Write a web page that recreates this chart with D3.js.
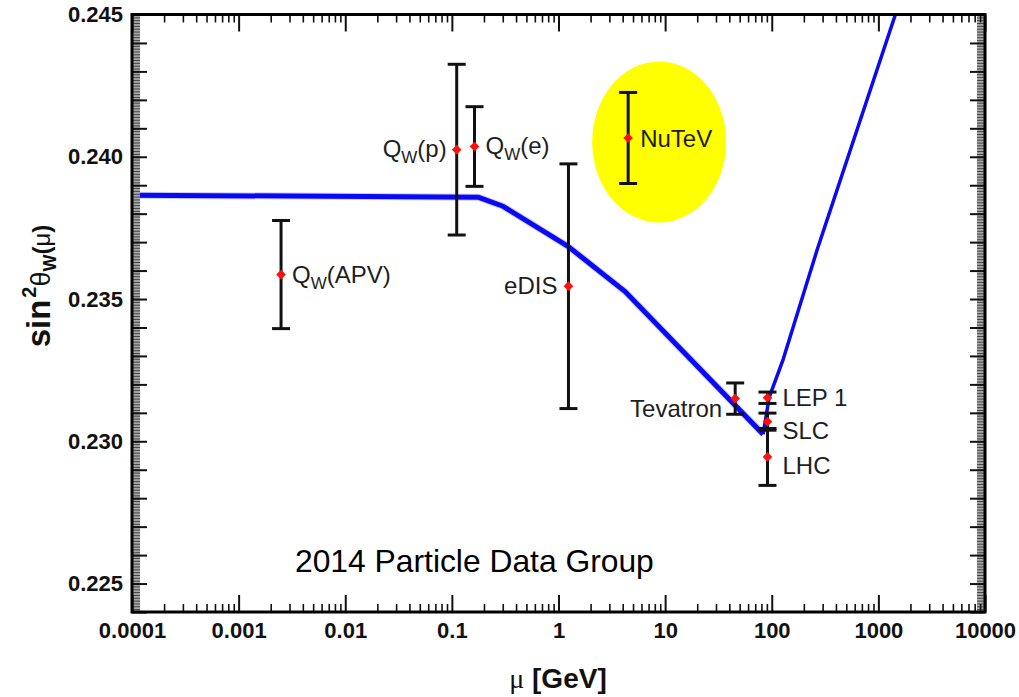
<!DOCTYPE html>
<html>
<head>
<meta charset="utf-8">
<script src="https://cdn.jsdelivr.net/npm/d3@7"></script>
<style>
  html, body { margin: 0; padding: 0; background: #fff; }
  svg { display: block; }
  text { font-family: "Liberation Sans", Arial, Helvetica, sans-serif; }
</style>
</head>
<body>
<svg id="chart" width="1019" height="697"></svg>
<script>
// Weak mixing angle measurements at different energy scales
const experiments = ["Q_W(APV)", "Q_W(p)", "Q_W(e)", "eDIS", "NuTeV", "Tevatron", "LEP 1", "SLC", "LHC"];
const scaleGeV    = [0.0025, 0.111, 0.163, 1.24, 4.5, 45.4, 91.2, 91.2, 91.2];
const sin2w       = [0.23586, 0.24025, 0.24036, 0.23545, 0.24066, 0.23150, 0.23153, 0.23069, 0.22945];
const sin2wErr    = [0.0019, 0.0030, 0.0014, 0.0043, 0.0016, 0.00055, 0.0002, 0.0003, 0.0010];

// Running of sin^2(theta_W) in the MS-bar scheme
const curveMu   = [0.0001, 0.176, 0.302, 1.23, 4.22, 83.0, 94.6, 128, 267, 1439];
const curveS2w  = [0.23865, 0.23858, 0.23826, 0.23685, 0.23526, 0.23025, 0.23154, 0.23288, 0.23674, 0.24498];

// Axis labels
const xTickLabels = ["0.0001", "0.001", "0.01", "0.1", "1", "10", "100", "1000", "10000"];
const yTickLabels = ["0.225", "0.230", "0.235", "0.240", "0.245"];

// Label placement next to each point (pixels)
const labelPlacement = {
  "Q_W(APV)": { anchor: "start", dx: 11,  dy: 8 },
  "Q_W(p)":   { anchor: "end",   dx: -10, dy: 7 },
  "Q_W(e)":   { anchor: "start", dx: 11,  dy: 7 },
  "eDIS":     { anchor: "end",   dx: -11, dy: 8 },
  "NuTeV":    { anchor: "start", dx: 12,  dy: 9 },
  "Tevatron": { anchor: "end",   dx: -13, dy: 18 },
  "LEP 1":    { anchor: "start", dx: 15,  dy: 8 },
  "SLC":      { anchor: "start", dx: 15,  dy: 17 },
  "LHC":      { anchor: "start", dx: 15,  dy: 17 }
};

const svg = d3.select("#chart");
const frame = { left: 132, right: 985, top: 14.5, bottom: 612 };

const x = d3.scaleLog().domain([1e-4, 1e4]).range([frame.left, frame.right]);
const y = d3.scaleLinear().domain([0.224, 0.245]).range([frame.bottom, frame.top]);

const plot = svg.append("g");

// Highlight around the NuTeV result
const nutevIdx = experiments.indexOf("NuTeV");
plot.append("ellipse")
  .attr("cx", x(scaleGeV[nutevIdx]) + 31)
  .attr("cy", y(sin2w[nutevIdx]) + 4)
  .attr("rx", 67)
  .attr("ry", 80.5)
  .attr("fill", "#ffff00");

// Clip the theory curve to the frame
svg.append("defs").append("clipPath").attr("id", "frameClip")
  .append("rect")
  .attr("x", frame.left).attr("y", frame.top)
  .attr("width", frame.right - frame.left)
  .attr("height", frame.bottom - frame.top);

const curve = curveMu.map((m, i) => [m, curveS2w[i]]);
const minIdx = d3.minIndex(curveS2w);
const line = d3.line().x(d => x(d[0])).y(d => y(d[1]));

const curveG = plot.append("g").attr("clip-path", "url(#frameClip)");
curveG.append("path")
  .datum(curve.slice(0, minIdx + 1))
  .attr("d", line)
  .attr("fill", "none")
  .attr("stroke", "#8f8ff5")
  .attr("stroke-width", 7)
  .attr("stroke-opacity", 0.45)
  .attr("stroke-linejoin", "round");
curveG.append("path")
  .datum(curve.slice(0, minIdx + 1))
  .attr("d", line)
  .attr("fill", "none")
  .attr("stroke", "#0a0af2")
  .attr("stroke-width", 5)
  .attr("stroke-linejoin", "round");
curveG.append("path")
  .datum(curve.slice(minIdx))
  .attr("d", line)
  .attr("fill", "none")
  .attr("stroke", "#0a0af2")
  .attr("stroke-width", 3.5)
  .attr("stroke-linejoin", "round");

// Error bars
const points = experiments.map((name, i) => ({
  name, mu: scaleGeV[i], v: sin2w[i], e: sin2wErr[i]
}));

const bars = plot.append("g").attr("stroke", "#111").attr("stroke-width", 3);
points.forEach(p => {
  const px = x(p.mu);
  const y1 = y(p.v + p.e), y2 = y(p.v - p.e);
  bars.append("line").attr("x1", px).attr("x2", px).attr("y1", y1).attr("y2", y2);
  bars.append("line").attr("x1", px - 9).attr("x2", px + 9).attr("y1", y1).attr("y2", y1);
  bars.append("line").attr("x1", px - 9).attr("x2", px + 9).attr("y1", y2).attr("y2", y2);
});

// Central values
plot.append("g").selectAll("path")
  .data(points)
  .join("path")
  .attr("d", d3.symbol(d3.symbolDiamond2, 60))
  .attr("transform", d => `translate(${x(d.mu)},${y(d.v)})`)
  .attr("fill", "#ff1010");

// Experiment labels, with "_" marking a subscript letter
function writeLabel(sel, name) {
  const parts = name.split("_");
  sel.append("tspan").text(parts[0]);
  if (parts.length > 1) {
    sel.append("tspan").attr("font-size", 17).attr("dy", 6).text(parts[1][0]);
    sel.append("tspan").attr("dy", -6).text(parts[1].slice(1));
  }
}
points.forEach(p => {
  const lp = labelPlacement[p.name];
  const t = plot.append("text")
    .attr("x", x(p.mu) + lp.dx)
    .attr("y", y(p.v) + lp.dy)
    .attr("text-anchor", lp.anchor)
    .attr("font-size", 24)
    .attr("fill", "#1e1e1e");
  writeLabel(t, p.name);
});

plot.append("text")
  .attr("x", 295).attr("y", 572)
  .attr("font-size", 31.8)
  .attr("fill", "#000")
  .text("2014 Particle Data Group");

// Axes
const xMajor = xTickLabels.map(Number);
const xMinor = [];
for (let k = -4; k < 4; k++) {
  for (let m = 2; m <= 9; m++) xMinor.push(m * Math.pow(10, k));
}
const yMajor = d3.range(224, 246).map(v => v / 1000);
const yFine = d3.range(2240, 2451).map(v => v / 10000);
const yLabelSet = new Set(yTickLabels);

function styleAxis(g, width) {
  g.select(".domain").remove();
  g.selectAll(".tick line").attr("stroke", "#111").attr("stroke-width", width);
}

// grey bands of dense fine ticks along the vertical axes
[[frame.left, 1], [frame.right, -1]].forEach(([ax, dir]) => {
  svg.append("rect")
    .attr("x", dir > 0 ? ax : ax - 8)
    .attr("y", frame.top)
    .attr("width", 8)
    .attr("height", frame.bottom - frame.top)
    .attr("fill", "#a8a8a8");
});
svg.append("g").attr("transform", `translate(${frame.left},0)`)
  .call(d3.axisLeft(y).tickValues(yFine).tickSize(-8).tickFormat(""))
  .call(g => { g.select(".domain").remove(); g.selectAll(".tick line").attr("stroke", "#444").attr("stroke-width", 1); });
svg.append("g").attr("transform", `translate(${frame.right},0)`)
  .call(d3.axisRight(y).tickValues(yFine).tickSize(-8).tickFormat(""))
  .call(g => { g.select(".domain").remove(); g.selectAll(".tick line").attr("stroke", "#444").attr("stroke-width", 1); });

svg.append("g").attr("transform", `translate(${frame.left},0)`)
  .call(d3.axisLeft(y).tickValues(yMajor).tickSize(-15).tickPadding(9)
    .tickFormat(d => { const s = d.toFixed(3); return yLabelSet.has(s) ? s : ""; }))
  .call(g => styleAxis(g, 2))
  .call(g => g.selectAll("text").attr("font-size", 22).attr("font-weight", "bold").attr("fill", "#111"));

svg.append("g").attr("transform", `translate(${frame.right},0)`)
  .call(d3.axisRight(y).tickValues(yMajor).tickSize(-15).tickFormat(""))
  .call(g => styleAxis(g, 2));

svg.append("g").attr("transform", `translate(0,${frame.bottom})`)
  .call(d3.axisBottom(x).tickValues(xMajor).tickSize(-17).tickPadding(10)
    .tickFormat((d, i) => xTickLabels[i]))
  .call(g => styleAxis(g, 2))
  .call(g => g.selectAll("text").attr("font-size", 22).attr("font-weight", "bold").attr("fill", "#111"));
svg.append("g").attr("transform", `translate(0,${frame.bottom})`)
  .call(d3.axisBottom(x).tickValues(xMinor).tickSize(-8).tickFormat(""))
  .call(g => styleAxis(g, 1.6));

svg.append("g").attr("transform", `translate(0,${frame.top})`)
  .call(d3.axisTop(x).tickValues(xMajor).tickSize(-17).tickFormat(""))
  .call(g => styleAxis(g, 2));
svg.append("g").attr("transform", `translate(0,${frame.top})`)
  .call(d3.axisTop(x).tickValues(xMinor).tickSize(-8).tickFormat(""))
  .call(g => styleAxis(g, 1.6));

// Frame
svg.append("rect")
  .attr("x", frame.left).attr("y", frame.top)
  .attr("width", frame.right - frame.left)
  .attr("height", frame.bottom - frame.top)
  .attr("fill", "none")
  .attr("stroke", "#000")
  .attr("stroke-width", 3);

// Axis titles
const xt = svg.append("text")
  .attr("x", 558).attr("y", 688)
  .attr("text-anchor", "middle")
  .attr("fill", "#111");
xt.append("tspan").attr("font-family", "'Liberation Serif', 'DejaVu Serif', serif").attr("font-size", 28).text("μ");
xt.append("tspan").attr("font-size", 28).attr("font-weight", "bold").text(" [GeV]");

const yt = svg.append("text")
  .attr("transform", "translate(50,286) rotate(-90)")
  .attr("text-anchor", "middle")
  .attr("fill", "#111")
  .attr("font-weight", "bold");
yt.append("tspan").attr("font-size", 33).text("sin");
yt.append("tspan").attr("font-size", 20).attr("dy", -14).attr("dx", 2).text("2");
yt.append("tspan").attr("font-size", 27).attr("dy", 14).attr("font-weight", "normal").text("θ");
yt.append("tspan").attr("font-size", 18).attr("dy", 6).text("W");
yt.append("tspan").attr("font-size", 24).attr("dy", -6).text("(");
yt.append("tspan").attr("font-size", 24).attr("font-weight", "normal").text("μ");
yt.append("tspan").attr("font-size", 24).text(")");
</script>
</body>
</html>
